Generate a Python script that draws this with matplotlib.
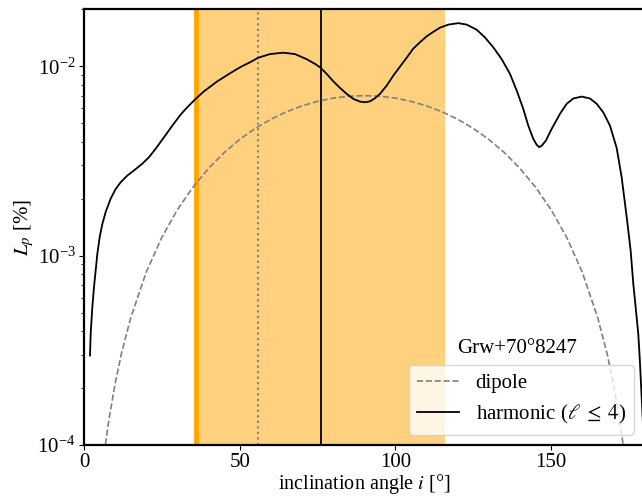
import matplotlib
matplotlib.use('Agg')

import numpy as np
import matplotlib.pyplot as plt

plt.rcParams['font.family'] = ['Liberation Serif', 'DejaVu Serif']
plt.rcParams['mathtext.fontset'] = 'stix'

# harmonic (l <= 4) curve
incl_harm = [1.93, 2.14, 2.68, 3.21, 3.75, 4.28, 5.03, 5.89, 6.96, 8.56,
             10.17, 11.77, 13.92, 16.06, 18.73, 20.87, 23.01, 25.69, 28.37,
             31.04, 33.18, 35.86, 38.54, 42.82, 47.10, 50.10, 53.31, 55.98,
             59.73, 64.01, 67.76, 71.52, 74.18, 75.79, 77.94, 80.06, 82.21,
             84.36, 86.48, 88.63, 90.24, 91.84, 93.45, 95.05, 97.21, 99.33,
             101.48, 103.63, 105.75, 107.90, 110.05, 112.17, 114.32, 116.99,
             120.20, 122.90, 126.11, 128.77, 131.44, 134.14, 136.80, 138.95,
             141.07, 142.68, 144.28, 145.38, 146.21, 147.08, 148.36, 150.19,
             152.86, 155.01, 157.13, 159.83, 162.49, 164.64, 166.76, 168.91,
             171.07, 172.67, 174.28, 175.56, 176.40, 177.26, 178.00, 178.45,
             178.77, 179.5]
lp_harm = [2.97e-4, 3.87e-4, 5.35e-4, 6.82e-4, 8.36e-4, 1.02e-3, 1.25e-3,
           1.47e-3, 1.70e-3, 2.00e-3, 2.25e-3, 2.44e-3, 2.65e-3, 2.82e-3,
           3.06e-3, 3.31e-3, 3.67e-3, 4.22e-3, 4.86e-3, 5.56e-3, 6.08e-3,
           6.73e-3, 7.38e-3, 8.33e-3, 9.23e-3, 9.88e-3, 1.05e-2, 1.11e-2,
           1.16e-2, 1.18e-2, 1.16e-2, 1.09e-2, 1.03e-2, 9.88e-3, 9.12e-3,
           8.33e-3, 7.69e-3, 7.15e-3, 6.73e-3, 6.51e-3, 6.46e-3, 6.53e-3,
           6.78e-3, 7.15e-3, 7.91e-3, 8.93e-3, 9.96e-3, 1.11e-2, 1.24e-2,
           1.34e-2, 1.44e-2, 1.52e-2, 1.60e-2, 1.66e-2, 1.69e-2, 1.66e-2,
           1.56e-2, 1.42e-2, 1.26e-2, 1.09e-2, 9.12e-3, 7.45e-3, 5.96e-3,
           4.86e-3, 4.14e-3, 3.85e-3, 3.74e-3, 3.82e-3, 4.06e-3, 4.67e-3,
           5.61e-3, 6.34e-3, 6.76e-3, 6.92e-3, 6.76e-3, 6.34e-3, 5.71e-3,
           4.86e-3, 3.70e-3, 2.59e-3, 1.60e-3, 1.06e-3, 7.11e-4, 5.14e-4,
           3.87e-4, 2.91e-4, 2.29e-4, 1.3e-4]

# dipole curve
incl_dip = [5, 6, 7, 8, 10, 12, 15, 20, 25, 30, 35, 40, 45, 50, 55, 60, 65,
            70, 75, 80, 85, 90, 95, 100, 105, 110, 115, 120, 125, 130, 135,
            140, 145, 150, 155, 160, 165, 168, 170, 172, 173, 174, 175]
lp_dip = [5.3e-5, 7.65e-5, 1.04e-4, 1.36e-4, 2.11e-4, 3.03e-4, 4.69e-4,
          8.19e-4, 1.25e-3, 1.75e-3, 2.30e-3, 2.89e-3, 3.50e-3, 4.11e-3,
          4.70e-3, 5.25e-3, 5.75e-3, 6.18e-3, 6.53e-3, 6.79e-3, 6.95e-3,
          7.00e-3, 6.95e-3, 6.79e-3, 6.53e-3, 6.18e-3, 5.75e-3, 5.25e-3,
          4.70e-3, 4.11e-3, 3.50e-3, 2.89e-3, 2.30e-3, 1.75e-3, 1.25e-3,
          8.19e-4, 4.69e-4, 3.03e-4, 2.11e-4, 1.36e-4, 1.04e-4, 7.65e-5,
          5.3e-5]

# inclination constraints
i_low = 36.0
i_alt = 56.0
i_best = 76.0
i_high = 116.0
star_name = 'Grw+70°8247'

fig = plt.figure(figsize=(6.42, 4.96), dpi=100)
ax = fig.add_axes([84 / 642, 1 - 445 / 496, 560.5 / 642, 435.7 / 496])

ax.axvspan(i_low, i_high, color='orange', alpha=0.5, lw=0)
ax.axvline(i_low, color='orange', lw=3.5)
ax.axvline(i_alt, color='gray', ls=':', lw=1.5)
ax.axvline(i_best, color='black', lw=1.3)

ax.plot(incl_dip, lp_dip, '--', color='gray', lw=1.2, label='dipole')
ax.plot(incl_harm, lp_harm, '-', color='black', lw=1.3,
        label=r'harmonic ($\ell\;\leq\;4$)')

ax.set_yscale('log')
ax.set_xlim(0, 180)
ax.set_ylim(1e-4, 2e-2)
ax.set_xticks([0, 50, 100, 150])

for s in ax.spines.values():
  s.set_linewidth(1.6)
ax.tick_params(labelsize=15, pad=2.5)

ax.set_xlabel(r'inclination angle $i$ [°]', fontsize=14.5, labelpad=0)
ax.set_ylabel(r'$L_p$ [%]', fontsize=15, labelpad=1)

ax.text(0.7725, 0.222, star_name, transform=ax.transAxes, ha='center',
        va='center', fontsize=15)
ax.legend(loc='lower right', fontsize=15)

plt.savefig('out.png', dpi=100)
